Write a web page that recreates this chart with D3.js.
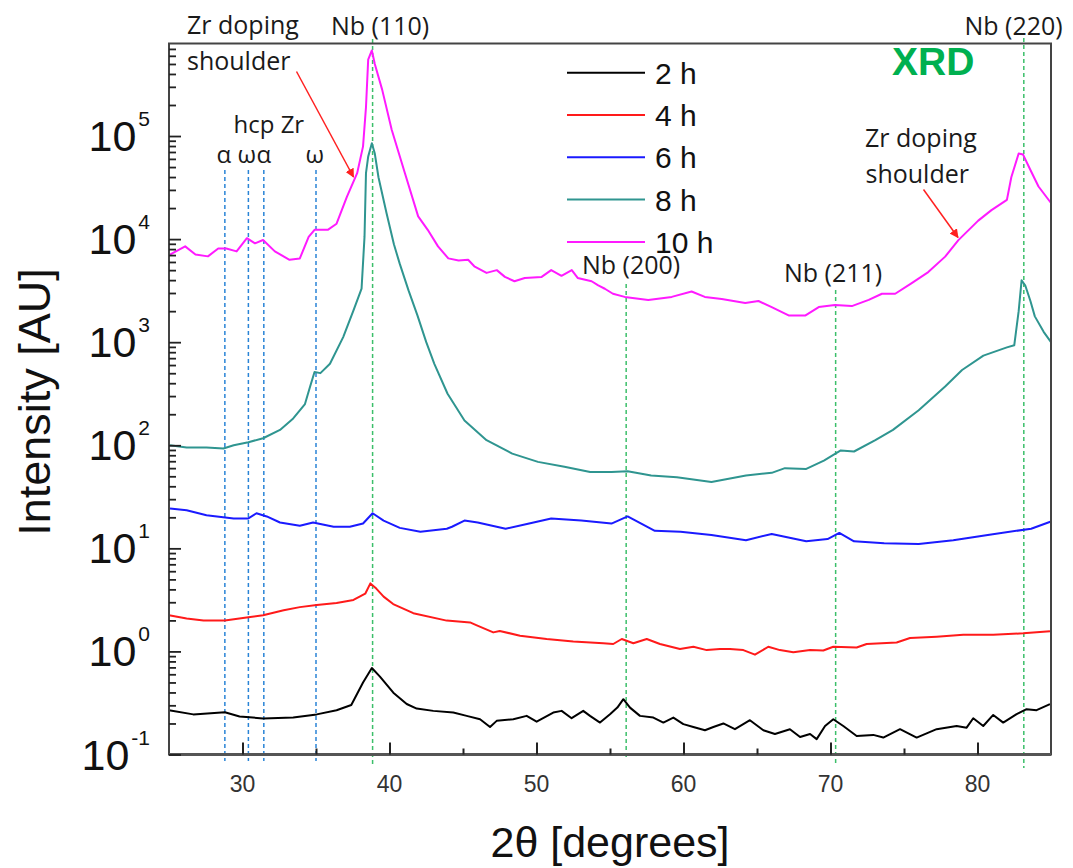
<!DOCTYPE html>
<html>
<head>
<meta charset="utf-8">
<script src="https://cdn.jsdelivr.net/npm/d3@7"></script>
<style>
  html, body { margin: 0; padding: 0; background: #fff; }
  svg { display: block; }
</style>
</head>
<body>
<svg id="chart" width="1073" height="868"></svg>
<script>
// ---------- DATA ----------
const seriesNames = ["2 h", "4 h", "6 h", "8 h", "10 h"];
const seriesColors = ["#000000", "#ff1a1a", "#1a1aff", "#2f9590", "#ff1aff"];

const theta2h = [25.0,26.65,28.8,29.8,31.4,33.45,35.05,36.4,37.4,38.2,38.8,39.35,40.26,41.17,41.85,42.98,44.34,45.25,46.16,46.84,47.29,48.42,49.33,50.01,51.14,51.71,52.39,53.18,53.64,54.32,55.0,55.5,55.91,56.36,57.04,57.95,58.63,59.31,59.99,60.67,61.46,62.03,62.71,63.5,64.52,65.43,66.22,67.24,67.93,68.61,69.06,69.63,70.19,70.87,71.78,72.91,73.59,74.73,75.86,77.22,78.58,79.26,79.71,80.39,81.07,81.75,82.66,83.34,84.02,84.93];
const int2h = [0.269,0.245,0.257,0.234,0.224,0.229,0.245,0.269,0.302,0.50,0.69,0.57,0.398,0.309,0.279,0.265,0.255,0.237,0.220,0.185,0.212,0.220,0.237,0.208,0.255,0.265,0.225,0.265,0.237,0.204,0.246,0.285,0.344,0.285,0.237,0.228,0.204,0.228,0.197,0.185,0.172,0.185,0.200,0.176,0.215,0.172,0.158,0.176,0.148,0.158,0.141,0.189,0.220,0.189,0.151,0.155,0.146,0.176,0.146,0.176,0.189,0.182,0.225,0.189,0.242,0.204,0.246,0.275,0.269,0.308];

const theta4h = [25.0,26.2,27.35,28.8,30.4,31.4,32.8,33.9,35.05,36.4,37.55,38.35,38.7,39.1,39.6,40.25,41.62,43.89,45.48,45.9,47.06,47.5,48.88,50.69,52.5,54.54,55.22,55.8,56.59,57.5,58.4,59.76,60.67,61.58,62.48,63.16,64.07,64.86,65.77,66.56,67.47,68.61,69.51,70.19,71.78,72.46,74.5,75.41,77.22,79.03,81.07,83.11,84.93];
const int4h = [2.24,2.09,2.0,2.0,2.14,2.24,2.51,2.69,2.82,2.95,3.16,3.63,4.57,4.07,3.4,2.88,2.35,1.99,1.91,1.80,1.53,1.58,1.42,1.32,1.25,1.20,1.18,1.32,1.20,1.32,1.18,1.055,1.11,1.03,1.055,1.055,1.03,0.93,1.11,1.03,0.98,1.03,1.02,1.11,1.09,1.18,1.22,1.35,1.39,1.45,1.45,1.50,1.57];

const theta6h = [25.07,26.2,27.55,29.4,30.4,30.95,31.65,32.55,33.9,34.8,36.2,37.3,38.2,38.85,39.6,40.7,42.1,43.9,44.25,45.1,46.0,47.9,49.5,51.0,53.05,55.1,56.2,58.05,59.8,61.9,64.25,66.0,68.35,69.8,70.6,71.6,73.65,76.0,78.35,80.7,83.65,85.0];
const int6h = [24.3,23.4,20.9,19.5,19.5,21.9,20.4,17.8,16.6,17.8,16.2,16.2,17.4,21.9,18.6,15.8,14.5,15.5,16.2,18.6,17.8,15.5,17.4,19.5,18.6,17.4,20.4,14.8,14.5,13.5,12.0,13.8,11.7,12.3,14.1,11.7,11.2,11.0,12.0,13.5,15.5,18.2];

const theta8h = [25.07,26.2,27.55,28.7,29.4,30.4,31.4,32.55,33.45,34.25,34.6,34.9,35.3,35.95,36.85,37.55,38.1,38.3,38.4,38.55,38.8,39.0,39.25,39.8,40.3,40.7,41.3,41.9,42.5,43.05,43.95,45.1,46.6,48.35,50.1,51.9,53.65,55.1,56.2,57.8,59.55,61.9,64.25,66.0,66.9,68.35,69.55,70.7,71.6,73.05,74.25,76.0,77.8,78.95,80.4,82.0,82.5,82.8,83.0,83.25,83.6,83.9,84.5,85.0];
const int8h = [100,95,95,93,100,107,117,141,182,251,372,513,501,617,1120,2040,3310,10500,43600,63100,85100,67600,39800,17800,8900,5750,3160,1820,1000,617,316,174,112,83,69,62,55,55,56,51,49,44,51,54,60,59,71,89,87,112,141,219,372,537,741,890,933,2000,3980,3550,2510,1780,1260,1000];

const theta10h = [25.0,26.1,26.8,27.65,28.35,28.9,29.6,30.3,30.85,31.4,32.2,33.2,33.9,34.5,34.9,35.8,36.4,37.1,37.8,38.2,38.4,38.55,38.8,39.0,39.5,40.15,41.05,41.95,42.6,43.3,44.0,44.7,45.35,45.8,46.6,47.3,47.85,48.5,49.2,50.35,51.0,51.7,52.4,52.8,53.75,54.2,54.65,55.2,56.0,57.6,59.2,60.55,61.45,62.6,64.2,65.1,66.0,67.15,68.3,69.2,70.3,71.45,72.6,73.5,74.4,75.5,76.65,77.8,78.7,80.05,80.95,82.0,82.3,82.8,83.1,83.6,84.15,85.0];
const int10h = [7000,8500,7100,6800,8100,8100,7600,10200,9100,9800,7600,6300,6500,10500,12300,12300,14100,25700,43600,79400,190000,550000,676000,500000,282000,115000,43600,16600,12300,8500,6500,6200,6300,5400,4700,5000,4300,3900,4200,4300,5000,4400,5000,4200,3900,3550,3300,2950,2750,2570,2750,3100,2750,2630,2400,2510,2190,1820,1820,2190,2290,2240,2570,2950,2950,3720,4790,6760,9770,15100,19100,24000,39800,67600,66100,46800,32400,22400];

const xMajorTicks = [30, 40, 50, 60, 70, 80];
const xMinorTicks = [35, 45, 55, 65, 75];
const yExponents = [-1, 0, 1, 2, 3, 4, 5];

const nbPeaks = [38.85, 56.1, 70.35, 83.15];      // green dashed
const zrPeaks = [28.8, 30.4, 31.45, 35.0];        // blue dashed

// ---------- LAYOUT ----------
const svg = d3.select("#chart");
const L = 169, R = 1051, T = 43.5, B = 754.5;
const x = d3.scaleLinear().domain([25, 85]).range([L, R]);
const y = d3.scaleLog().domain([0.1, 7.9e5]).range([B, T]);

const AX_FONT = "'Liberation Sans', Arial, sans-serif";
const ANN_FONT = "'Open Sans', 'Noto Sans', sans-serif";

// dashed reference lines
svg.append("g").selectAll("line").data(zrPeaks).join("line")
  .attr("x1", d => x(d)).attr("x2", d => x(d))
  .attr("y1", 170).attr("y2", 761)
  .attr("stroke", "#2a84d6").attr("stroke-width", 1.5)
  .attr("stroke-dasharray", "4,3");

const nbTops = [39, 284, 290, 38];
const nbBottoms = [767, 757, 763, 768];
svg.append("g").selectAll("line").data(nbPeaks).join("line")
  .attr("x1", d => x(d)).attr("x2", d => x(d))
  .attr("y1", (d, i) => nbTops[i]).attr("y2", (d, i) => nbBottoms[i])
  .attr("stroke", "#3cbf6a").attr("stroke-width", 1.5)
  .attr("stroke-dasharray", "4,3");

// curves
const series = [
  [theta2h, int2h], [theta4h, int4h], [theta6h, int6h], [theta8h, int8h], [theta10h, int10h]
];
const line = d3.line().x(d => x(d[0])).y(d => y(d[1]));
const gLines = svg.append("g");
series.forEach((s, i) => {
  const pts = s[0].map((t, k) => [t, s[1][k]]);
  gLines.append("path").datum(pts)
    .attr("d", line)
    .attr("fill", "none")
    .attr("stroke", seriesColors[i])
    .attr("stroke-width", 2)
    .attr("stroke-linejoin", "round");
});

// frame
svg.append("rect").attr("x", L).attr("y", T).attr("width", R - L).attr("height", B - T)
  .attr("fill", "none").attr("stroke", "#444").attr("stroke-width", 2);
svg.append("line").attr("x1", L).attr("x2", R).attr("y1", B).attr("y2", B)
  .attr("stroke", "#555").attr("stroke-width", 2.8);

// x axis ticks (inward)
const xMaj = svg.append("g").attr("transform", `translate(0,${B})`)
  .call(d3.axisBottom(x).tickValues(xMajorTicks).tickSize(-12).tickFormat(""));
const xMin = svg.append("g").attr("transform", `translate(0,${B})`)
  .call(d3.axisBottom(x).tickValues(xMinorTicks).tickSize(-6).tickFormat(""));
[xMaj, xMin].forEach(g => {
  g.select(".domain").remove();
  g.selectAll(".tick line").attr("stroke", "#222").attr("stroke-width", 2);
});
svg.append("g").selectAll("text").data(xMajorTicks).join("text")
  .attr("x", d => x(d)).attr("y", 791.5)
  .attr("text-anchor", "middle")
  .attr("font-family", AX_FONT).attr("font-size", 23)
  .attr("fill", "#333")
  .text(d => d);

// y axis ticks (inward)
const yMajorVals = yExponents.map(e => Math.pow(10, e));
const yMinorVals = [];
yExponents.forEach(e => { for (let m = 2; m <= 9; m++) { const v = m * Math.pow(10, e); if (v <= 7.9e5) yMinorVals.push(v); } });
const yMaj = svg.append("g").attr("transform", `translate(${L},0)`)
  .call(d3.axisLeft(y).tickValues(yMajorVals).tickSize(-12).tickFormat(""));
const yMin = svg.append("g").attr("transform", `translate(${L},0)`)
  .call(d3.axisLeft(y).tickValues(yMinorVals).tickSize(-7).tickFormat(""));
[yMaj, yMin].forEach(g => {
  g.select(".domain").remove();
  g.selectAll(".tick line").attr("stroke", "#222").attr("stroke-width", 1.8);
});
const yLab = svg.append("g").selectAll("text").data(yExponents).join("text")
  .attr("x", 150).attr("y", d => y(Math.pow(10, d)) + 15)
  .attr("text-anchor", "end")
  .attr("font-family", AX_FONT).attr("fill", "#111");
yLab.append("tspan").attr("font-size", 43).text("10");
yLab.append("tspan").attr("font-size", 21).attr("dx", 2).attr("dy", -25).text(d => d);

// axis titles
svg.append("text")
  .attr("transform", "translate(50,402) rotate(-90)")
  .attr("text-anchor", "middle")
  .attr("font-family", AX_FONT).attr("font-size", 45).attr("fill", "#111")
  .text("Intensity [AU]");
svg.append("text")
  .attr("x", 610).attr("y", 857)
  .attr("text-anchor", "middle")
  .attr("font-family", AX_FONT).attr("font-size", 43).attr("fill", "#111")
  .text("2θ [degrees]");

// legend
const lg = svg.append("g");
seriesNames.forEach((n, i) => {
  const yy = 72.7 + i * 42.3;
  lg.append("line").attr("x1", 567).attr("x2", 645).attr("y1", yy).attr("y2", yy)
    .attr("stroke", seriesColors[i]).attr("stroke-width", 2);
  lg.append("text").attr("x", 655).attr("y", yy + 11)
    .attr("font-family", AX_FONT).attr("font-size", 30).attr("fill", "#111")
    .text(n);
});

// annotations
const ann = [
  ["Zr doping", 187, 34, 25], ["shoulder", 187, 70, 25], ["Nb (110)", 331, 35, 25],
  ["hcp Zr", 233.5, 133, 24], ["α", 216.5, 163, 24], ["ω", 237.5, 163, 24], ["α", 256.5, 163, 24], ["ω", 305.5, 163, 24],
  ["Nb (200)", 582, 274, 25], ["Nb (211)", 784, 282, 25], ["Nb (220)", 964.5, 35, 25],
  ["Zr doping", 865, 147, 25], ["shoulder", 865.5, 183, 25]
];
svg.append("g").selectAll("text").data(ann).join("text")
  .attr("x", d => d[1]).attr("y", d => d[2])
  .attr("font-family", ANN_FONT).attr("font-size", d => d[3]).attr("fill", "#1a1a1a")
  .text(d => d[0]);

svg.append("text").attr("x", 892).attr("y", 75)
  .attr("font-family", AX_FONT).attr("font-weight", "bold").attr("font-size", 39)
  .attr("fill", "#00b050").text("XRD");

// arrows
const defs = svg.append("defs");
defs.append("marker").attr("id", "arr").attr("viewBox", "0 0 10 10")
  .attr("refX", 9).attr("refY", 5).attr("markerWidth", 9).attr("markerHeight", 9)
  .attr("markerUnits", "userSpaceOnUse").attr("orient", "auto")
  .append("path").attr("d", "M0,0 L10,5 L0,10 z").attr("fill", "#ff2020");
const arrows = [[296.5, 71.5, 353.5, 177], [923.5, 189.5, 958, 237.5]];
svg.append("g").selectAll("line").data(arrows).join("line")
  .attr("x1", d => d[0]).attr("y1", d => d[1]).attr("x2", d => d[2]).attr("y2", d => d[3])
  .attr("stroke", "#ff2020").attr("stroke-width", 1.5)
  .attr("marker-end", "url(#arr)");
</script>
</body>
</html>
